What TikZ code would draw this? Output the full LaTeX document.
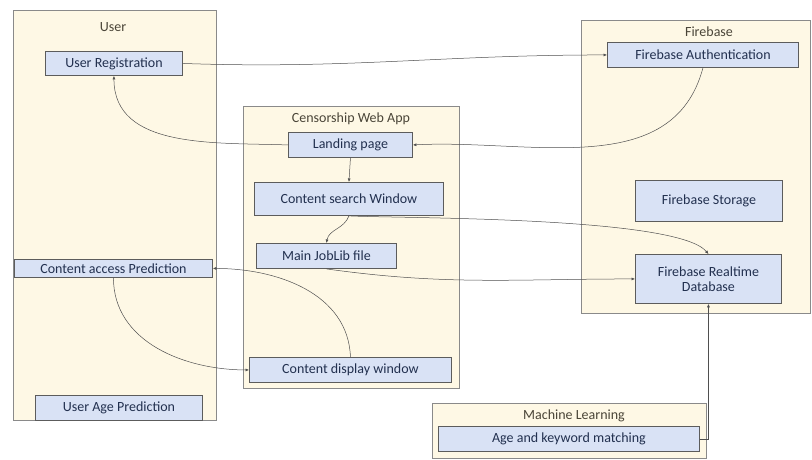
\documentclass[tikz,border=0pt]{standalone}
\usepackage{fontspec}
\setmainfont{Carlito}
\usetikzlibrary{arrows.meta}

\definecolor{panelfill}{HTML}{FEF8E5}
\definecolor{panelline}{HTML}{8A8A8A}
\definecolor{boxfill}{HTML}{D9E2F5}
\definecolor{boxline}{HTML}{5C5C5C}
\definecolor{boxtext}{HTML}{22304F}
\definecolor{titletext}{HTML}{4A4538}
\definecolor{wirecolor}{HTML}{4F4F4F}

\tikzset{
  panel/.style={draw=panelline, fill=panelfill, line width=0.9pt, anchor=north west, inner sep=0pt},
  box/.style={draw=boxline, fill=boxfill, line width=0.9pt, anchor=north west, inner sep=0pt,
    text=boxtext, align=center, font=\fontsize{14}{15.5}\selectfont},
  paneltitle/.style={text=titletext, font=\fontsize{14}{15.5}\selectfont},
  wire/.style={draw=wirecolor, line width=0.5pt, -{Latex[length=3.5pt,width=3pt]}}
}

\begin{document}
\begin{tikzpicture}[x=1pt,y=-1pt]
  \useasboundingbox (0,0) rectangle (812,460);

  % User
  \node[panel, minimum width=203pt, minimum height=410pt] (userpanel) at (13,10) {};
  \node[paneltitle] (usertitle) at (113,27) {User};
  \node[box, minimum width=137pt, minimum height=24pt] (reg) at (45,51) {User Registration};
  \node[box, minimum width=198pt, minimum height=18pt] (cap) at (14,259) {Content access Prediction};
  \node[box, minimum width=167pt, minimum height=25pt] (uap) at (35,395) {User Age Prediction};

  % Censorship Web App
  \node[panel, minimum width=216pt, minimum height=282pt] (webpanel) at (243,106) {};
  \node[paneltitle] (webtitle) at (351,119) {Censorship Web App};
  \node[box, minimum width=124pt, minimum height=25pt] (land) at (288,132) {Landing page};
  \node[box, minimum width=189pt, minimum height=33pt] (csw) at (254,182) {Content search Window};
  \node[box, minimum width=140pt, minimum height=25pt] (joblib) at (256,243) {Main JobLib file};
  \node[box, minimum width=202pt, minimum height=25pt] (cdw) at (249,357) {Content display window};

  % Firebase
  \node[panel, minimum width=229pt, minimum height=293pt] (firepanel) at (581,20) {};
  \node[paneltitle] (firetitle) at (709,32) {Firebase};
  \node[box, minimum width=191pt, minimum height=25pt] (auth) at (607,42) {Firebase Authentication};
  \node[box, minimum width=147pt, minimum height=41pt] (storage) at (635,180) {Firebase Storage};
  \node[box, minimum width=146pt, minimum height=49pt] (rtdb) at (635,254) {Firebase Realtime\\Database};

  % Machine Learning
  \node[panel, minimum width=274pt, minimum height=55pt] (mlpanel) at (432,403) {};
  \node[paneltitle] (mltitle) at (574,416) {Machine Learning};
  \node[box, minimum width=261pt, minimum height=25pt] (akm) at (438,426) {Age and keyword matching};

  % Connectors
  \draw[wire] (reg.east) to[out=-2,in=180] (auth.west);
  \draw[wire] (auth.south) to[out=-105,in=3] (land.east);
  \draw[wire] (land.west) to[out=178,in=-90] (reg.south);
  \draw[wire] (land.south) -- (csw.north);
  \draw[wire] (csw.south) to[out=-110,in=80] (joblib.north);
  \draw[wire] (csw.south) to[out=-3,in=130,looseness=0.35] (rtdb.north);
  \draw[wire] (joblib.south) to[out=-8,in=180] (rtdb.west);
  \draw[wire] (cdw.north) to[out=92,in=0] (cap.east);
  \draw[wire] (cap.south) to[out=-90,in=180] (cdw.west);
  \draw[wire] (akm.east) -| (rtdb.south);
\end{tikzpicture}
\end{document}
